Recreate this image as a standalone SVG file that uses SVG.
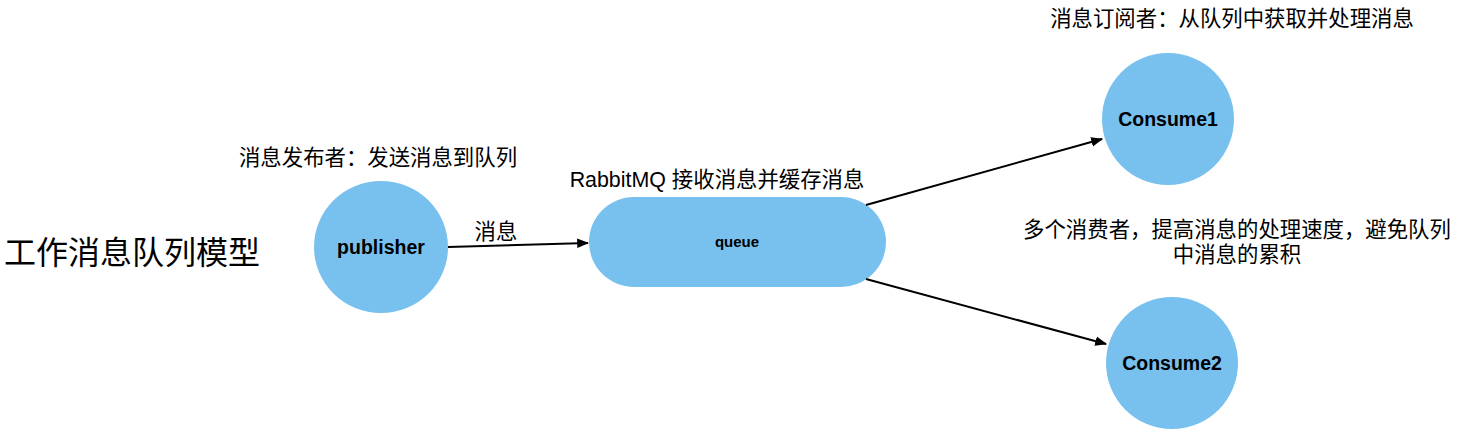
<svg xmlns="http://www.w3.org/2000/svg" width="1458" height="438" viewBox="0 0 1458 438">
<style>
.node{fill:#78c1ef;stroke:none}
.lbl{font-family:"Liberation Sans","Noto Sans CJK SC",sans-serif;fill:#000}
.cn{font-size:21.4px}
.b{font-weight:bold;font-size:19.5px}
.conn{stroke:#000;stroke-width:2;fill:none;marker-end:url(#ah)}
</style>
<defs>
<marker id="ah" viewBox="0 0 10 10" refX="9" refY="5" markerWidth="6" markerHeight="6" orient="auto" markerUnits="strokeWidth">
<path d="M0,1 L10,5 L0,9 z" fill="#000"/>
</marker>
</defs>
<rect width="1458" height="438" fill="#fff"/>
<text class="lbl" x="4" y="264" font-size="32">工作消息队列模型</text>
<g id="publisher">
<ellipse class="node" cx="381" cy="247" rx="67" ry="66"/>
<text class="lbl b" x="381" y="254" text-anchor="middle">publisher</text>
</g>
<text class="lbl cn" x="378" y="165" text-anchor="middle">消息发布者：发送消息到队列</text>
<g id="queue">
<rect class="node" x="589" y="197" width="297" height="90" rx="45" ry="45"/>
<text class="lbl" x="737" y="247" text-anchor="middle" font-size="15" font-weight="bold">queue</text>
</g>
<text class="lbl cn" x="717" y="187" text-anchor="middle">RabbitMQ 接收消息并缓存消息</text>
<g id="consume1">
<circle class="node" cx="1168" cy="119" r="66"/>
<text class="lbl b" x="1168" y="126" text-anchor="middle">Consume1</text>
</g>
<g id="consume2">
<circle class="node" cx="1172" cy="363" r="66"/>
<text class="lbl b" x="1172" y="370" text-anchor="middle">Consume2</text>
</g>
<text class="lbl cn" x="1232" y="26" text-anchor="middle">消息订阅者：从队列中获取并处理消息</text>
<text class="lbl cn" x="1237" y="237" text-anchor="middle">多个消费者，提高消息的处理速度，避免队列</text>
<text class="lbl cn" x="1237" y="262" text-anchor="middle">中消息的累积</text>
<g id="connectors">
<line class="conn" x1="448" y1="247" x2="588" y2="243"/>
<text class="lbl cn" x="496" y="239" text-anchor="middle">消息</text>
<line class="conn" x1="866" y1="205" x2="1102" y2="139"/>
<line class="conn" x1="866" y1="279" x2="1106" y2="344"/>
</g>
</svg>
